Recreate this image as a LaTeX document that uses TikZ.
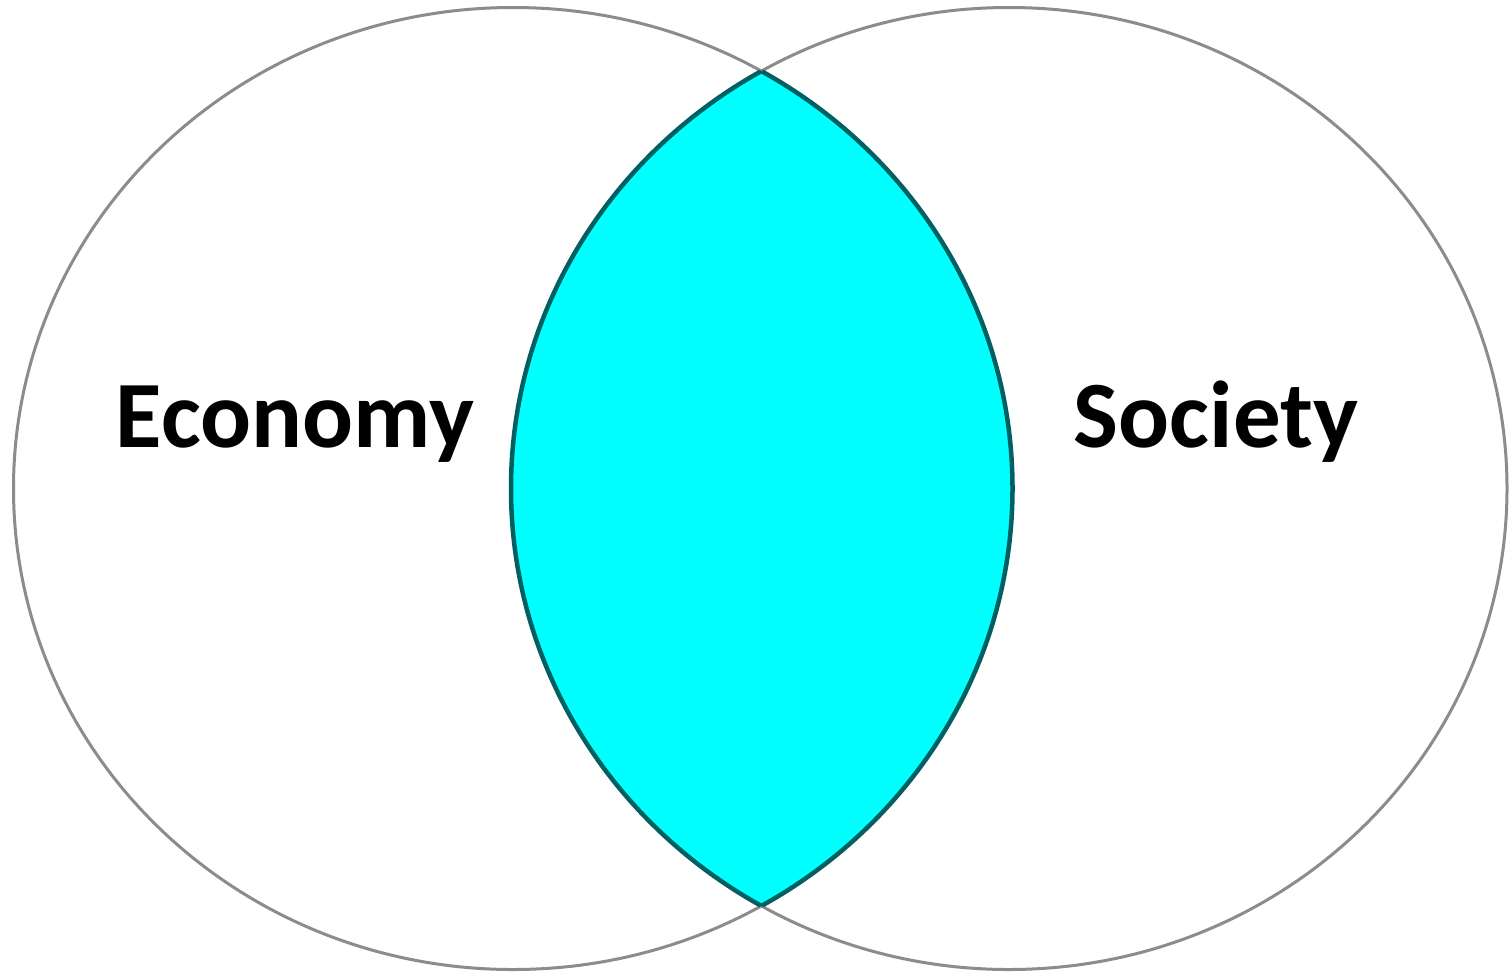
\documentclass[tikz,border=0pt]{standalone}
\usepackage{fontspec}
\setmainfont{Carlito}
\definecolor{ringgray}{HTML}{8C8C8C}
\definecolor{lensfill}{HTML}{00FFFF}
\definecolor{lensedge}{HTML}{005F60}
\tikzset{
  ring/.style={draw=ringgray, line width=3pt},
  lensline/.style={draw=lensedge, line width=4.5pt},
  label/.style={inner sep=0pt, anchor=base, font=\fontsize{95}{112}\selectfont\bfseries}
}
\begin{document}
\begin{tikzpicture}[x=1pt,y=-1pt]
\useasboundingbox (0,0) rectangle (1512,972);
\fill[white] (0,0) rectangle (1512,972);
\coordinate (cl) at (513,488.5);
\coordinate (cr) at (1009,488.5);
\draw[ring] (cl) ellipse [x radius=499.5pt, y radius=481pt];
\draw[ring] (cr) ellipse [x radius=498pt, y radius=481pt];
\begin{scope}
  \clip (cr) ellipse [x radius=498pt, y radius=481pt];
  \fill[lensfill] (cl) ellipse [x radius=499.5pt, y radius=481pt];
  \draw[lensline] (cl) ellipse [x radius=499.5pt, y radius=481pt];
\end{scope}
\begin{scope}
  \clip (cl) ellipse [x radius=499.5pt, y radius=481pt];
  \draw[lensline] (cr) ellipse [x radius=498pt, y radius=481pt];
\end{scope}
\node[label] (economy) at (295,447) {Economy};
\node[label] (society) at (1216,447) {Society};
\end{tikzpicture}
\end{document}
